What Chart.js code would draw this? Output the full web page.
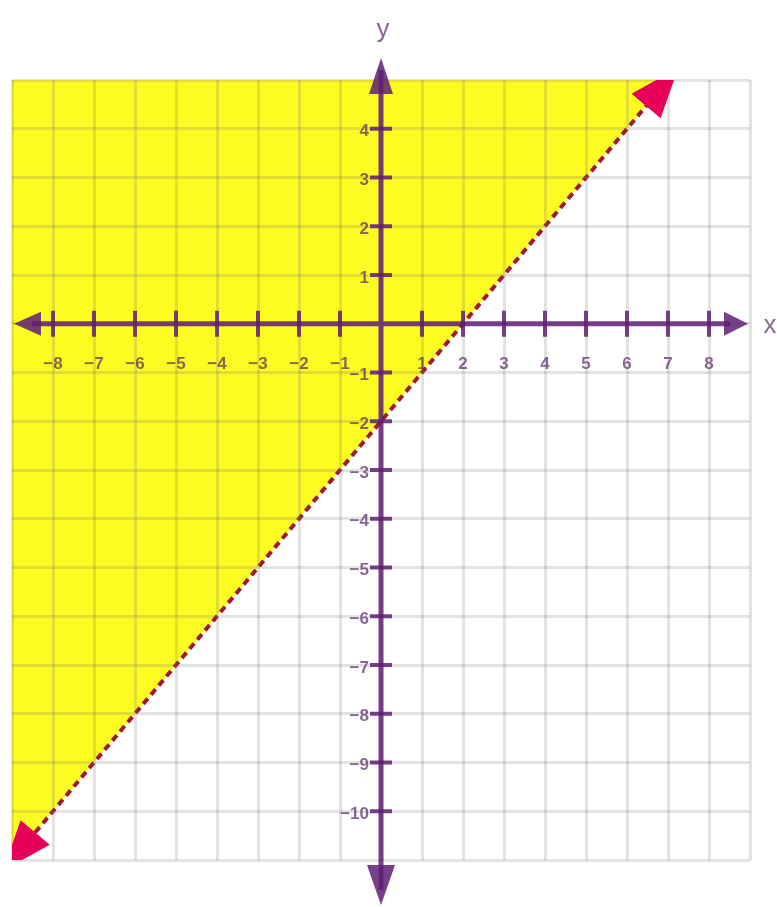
<!DOCTYPE html>
<html>
<head>
<meta charset="utf-8">
<script src="https://cdn.jsdelivr.net/npm/chart.js@4.4.1/dist/chart.umd.min.js"></script>
<style>
  body { margin: 0; background: #fff; }
  #wrap { width: 777px; height: 907px; }
</style>
</head>
<body>
<div id="wrap"><canvas id="myChart" width="777" height="907"></canvas></div>
<script>
// 축 범위, 눈금
const xRange = [-9, 9]
const yRange = [-11, 5]
const xTickValues = [-8, -7, -6, -5, -4, -3, -2, -1, 1, 2, 3, 4, 5, 6, 7, 8]
const yTickValues = [4, 3, 2, 1, -1, -2, -3, -4, -5, -6, -7, -8, -9, -10]

// 경계선 y = x - 2 (점선), 위쪽을 색칠
const boundaryX = [-9, 7]
const boundaryY = [-11, 5]

const axisColor = 'rgba(95, 30, 115, 0.85)'
const labelColor = 'rgba(85, 40, 100, 0.7)'
const arrowColor = '#e6005a'

// 화살표 삼각형 그리기
function triangle(c, tx, ty, ux, uy, len, half) {
    const bx = tx - ux * len
    const by = ty - uy * len
    c.beginPath()
    c.moveTo(tx, ty)
    c.lineTo(bx - uy * half, by + ux * half)
    c.lineTo(bx + uy * half, by - ux * half)
    c.closePath()
    c.fill()
}

// 좌표축, 눈금, 화살표는 스케일 값으로 계산해서 그림
const axesPlugin = {
    id: 'axes',
    afterDraw(chart) {
        const c = chart.ctx
        const a = chart.chartArea
        const xs = chart.scales.x
        const ys = chart.scales.y
        const x0 = xs.getPixelForValue(0)
        const y0 = ys.getPixelForValue(0)

        // 경계선 끝 화살표 (그래프 영역 안으로 잘림)
        const p1x = xs.getPixelForValue(boundaryX[0])
        const p1y = ys.getPixelForValue(boundaryY[0])
        const p2x = xs.getPixelForValue(boundaryX[1])
        const p2y = ys.getPixelForValue(boundaryY[1])
        const d = Math.hypot(p2x - p1x, p2y - p1y)
        const ux = (p2x - p1x) / d
        const uy = (p2y - p1y) / d
        c.save()
        c.beginPath()
        c.rect(a.left, a.top, a.right - a.left, a.bottom - a.top)
        c.clip()
        c.fillStyle = arrowColor
        triangle(c, p2x + ux * 16, p2y + uy * 16, ux, uy, 50, 19)
        triangle(c, p1x - ux * 14, p1y - uy * 14, -ux, -uy, 50, 19)
        c.restore()

        c.save()
        c.strokeStyle = axisColor
        c.fillStyle = axisColor
        c.lineWidth = 5
        c.beginPath()
        c.moveTo(a.left + 20, y0)
        c.lineTo(a.right - 20, y0)
        c.moveTo(x0, a.top - 10)
        c.lineTo(x0, a.bottom + 30)
        c.stroke()
        triangle(c, a.left + 2, y0, -1, 0, 27, 12)
        triangle(c, a.right - 2, y0, 1, 0, 24, 12)
        triangle(c, x0, a.top - 22, 0, -1, 36, 12)
        triangle(c, x0, a.bottom + 45, 0, 1, 40, 14)

        // 눈금 십자
        c.lineWidth = 4
        c.beginPath()
        xTickValues.forEach(function (v) {
            const px = xs.getPixelForValue(v)
            c.moveTo(px, y0 - 13)
            c.lineTo(px, y0 + 13)
        })
        yTickValues.forEach(function (v) {
            const py = ys.getPixelForValue(v)
            c.moveTo(x0 - 11, py)
            c.lineTo(x0 + 11, py)
        })
        c.stroke()

        // 눈금 숫자
        c.fillStyle = labelColor
        c.font = 'bold 17px "Liberation Sans", Arial, sans-serif'
        c.textBaseline = 'middle'
        c.textAlign = 'center'
        xTickValues.forEach(function (v) {
            c.fillText(String(v).replace('-', '\u2212'), xs.getPixelForValue(v), y0 + 41)
        })
        c.textAlign = 'right'
        yTickValues.forEach(function (v) {
            c.fillText(String(v).replace('-', '\u2212'), x0 - 12, ys.getPixelForValue(v) + 3)
        })

        // 축 이름
        c.font = '26px "Liberation Sans", Arial, sans-serif'
        c.textAlign = 'center'
        c.fillText('y', x0 + 2, a.top - 50)
        c.fillText('x', a.right + 20, y0 + 2)
        c.restore()
    },
}

const gridStyle = { color: 'rgba(110,110,110,0.2)', lineWidth: 3, drawTicks: false, z: 1 }

const ctx = document.getElementById('myChart').getContext('2d')
const myChart = new Chart(ctx, {
    type: 'scatter',
    data: {
        datasets: [
            {
                data: boundaryX.map(function (x, i) {
                    return { x: x, y: boundaryY[i] }
                }),
                showLine: true,
                fill: 'end',
                backgroundColor: '#fdfc22',
                borderColor: '#a01830',
                borderWidth: 4,
                borderDash: [7, 5],
                pointRadius: 0,
            },
        ],
    },
    options: {
        responsive: false,
        animation: false,
        layout: {
            padding: { left: 12, right: 27, top: 80, bottom: 47 },
        },
        plugins: {
            legend: { display: false },
            tooltip: { enabled: false },
        },
        scales: {
            x: {
                type: 'linear',
                min: xRange[0],
                max: xRange[1],
                ticks: { display: false, stepSize: 1 },
                grid: gridStyle,
                border: { display: false },
            },
            y: {
                type: 'linear',
                min: yRange[0],
                max: yRange[1],
                ticks: { display: false, stepSize: 1 },
                grid: gridStyle,
                border: { display: false },
            },
        },
    },
    plugins: [axesPlugin],
})
</script>
</body>
</html>
